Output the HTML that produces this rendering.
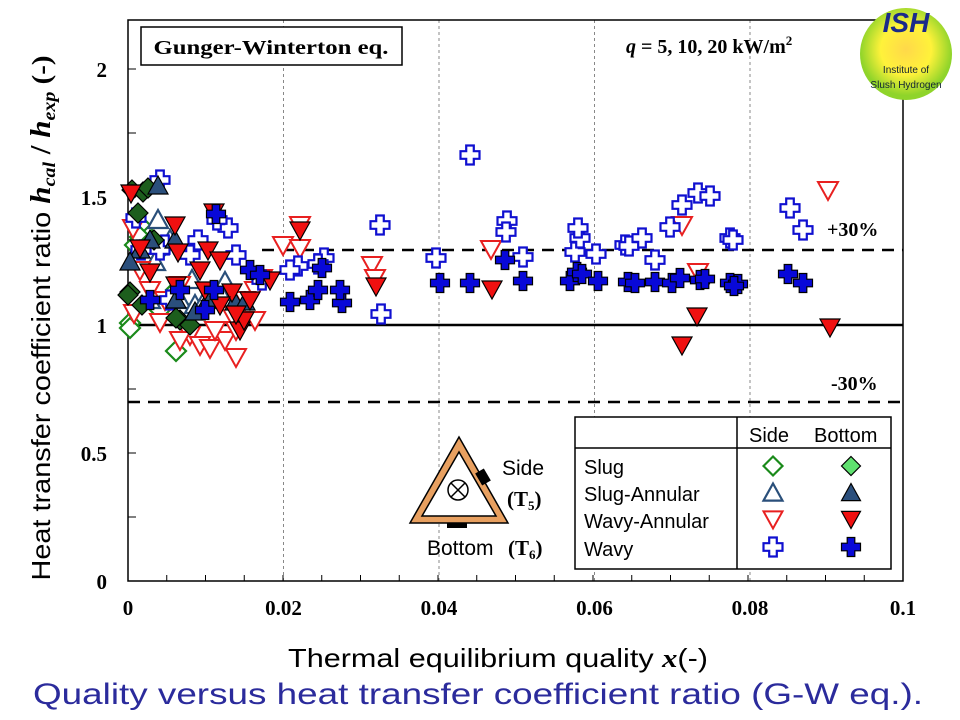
<!DOCTYPE html>
<html><head><meta charset="utf-8"><style>
html,body{margin:0;padding:0;background:#fff;}
svg{display:block;}
</style></head><body>
<svg id="s" width="960" height="720" xmlns="http://www.w3.org/2000/svg" font-family="Liberation Sans, sans-serif">
<defs>
<radialGradient id="lg" cx="50%" cy="45%" r="50%">
<stop offset="0" stop-color="#ffd84a"/><stop offset="0.55" stop-color="#fff23a"/><stop offset="1" stop-color="#8fd42a"/>
</radialGradient>
</defs>
<rect width="960" height="720" fill="#fff"/>
<g stroke="#888" stroke-width="1" stroke-dasharray="3,3">
<line x1="283.5" y1="20" x2="283.5" y2="581"/><line x1="439" y1="20" x2="439" y2="581"/>
<line x1="594.5" y1="20" x2="594.5" y2="581"/><line x1="750" y1="20" x2="750" y2="581"/>
</g>
<rect x="128" y="20" width="775" height="561" fill="none" stroke="#000" stroke-width="1.5"/>
<g id="ticks" stroke="#000" stroke-width="1"></g>
<line x1="128" y1="325" x2="903" y2="325" stroke="#000" stroke-width="2.5"/>
<line x1="262" y1="250" x2="903" y2="250" stroke="#000" stroke-width="2.5" stroke-dasharray="12,8"/>
<line x1="128" y1="402" x2="903" y2="402" stroke="#000" stroke-width="2.5" stroke-dasharray="12,8"/>
<g font-family="Liberation Serif, serif" font-weight="bold" font-size="20">
<text x="827" y="236">+30%</text><text x="831" y="390">-30%</text>
</g>
<g id="pts"></g>
<rect x="141" y="27" width="261" height="38" fill="#fff" stroke="#000" stroke-width="1.5"/>
<text x="271" y="54" text-anchor="middle" font-family="Liberation Serif, serif" font-weight="bold" font-size="20" textLength="235" lengthAdjust="spacingAndGlyphs">Gunger-Winterton eq.</text>
<text x="626" y="53" font-family="Liberation Serif, serif" font-weight="bold" font-size="20"><tspan font-style="italic">q</tspan> = 5, 10, 20 kW/m<tspan font-size="13" dy="-8">2</tspan></text>
<circle cx="906" cy="54" r="46" fill="url(#lg)"/>
<text x="906" y="32" text-anchor="middle" font-weight="bold" font-style="italic" font-size="28" fill="#1a2a8a">ISH</text>
<text x="906" y="73" text-anchor="middle" font-size="10" fill="#123">Institute of</text>
<text x="906" y="88" text-anchor="middle" font-size="10" fill="#123">Slush Hydrogen</text>
<g font-family="Liberation Serif, serif" font-weight="bold" font-size="21" text-anchor="end">
<text x="107" y="77">2</text><text x="107" y="205">1.5</text><text x="107" y="333">1</text><text x="107" y="461">0.5</text><text x="107" y="589">0</text>
</g>
<g font-family="Liberation Serif, serif" font-weight="bold" font-size="21" text-anchor="middle">
<text x="128" y="615">0</text><text x="283.5" y="615">0.02</text><text x="439" y="615">0.04</text><text x="594.5" y="615">0.06</text><text x="750" y="615">0.08</text><text x="903" y="615">0.1</text>
</g>
<text transform="translate(50,318) rotate(-90)" text-anchor="middle" font-size="26" textLength="525" lengthAdjust="spacingAndGlyphs">Heat transfer coefficient ratio <tspan font-family="Liberation Serif, serif" font-weight="bold" font-style="italic" font-size="28">h</tspan><tspan font-family="Liberation Serif, serif" font-weight="bold" font-style="italic" font-size="18" dy="5">cal</tspan><tspan dy="-5" font-family="Liberation Serif, serif" font-weight="bold" font-size="28"> / </tspan><tspan font-family="Liberation Serif, serif" font-weight="bold" font-style="italic" font-size="28">h</tspan><tspan font-family="Liberation Serif, serif" font-weight="bold" font-style="italic" font-size="18" dy="5">exp</tspan><tspan dy="-5" font-family="Liberation Serif, serif" font-weight="bold" font-size="26"> (-)</tspan></text>
<text x="498" y="667" text-anchor="middle" font-size="26" textLength="420" lengthAdjust="spacingAndGlyphs">Thermal equilibrium quality <tspan font-family="Liberation Serif, serif" font-weight="bold" font-style="italic">x</tspan>(-)</text>
<text x="478" y="704" text-anchor="middle" font-size="30" fill="#2b2b9c" textLength="890" lengthAdjust="spacingAndGlyphs">Quality versus heat transfer coefficient ratio (G-W eq.).</text>
<polygon points="459,437 410,523 508,523" fill="#e8a060" stroke="#000" stroke-width="1.5"/>
<polygon points="459,452 422,516 496,516" fill="#fff" stroke="#000" stroke-width="1.5"/>
<rect x="478" y="470" width="10" height="14" fill="#000" transform="rotate(-30 483 477)"/>
<rect x="447" y="523" width="20" height="5" fill="#000"/>
<circle cx="458" cy="490" r="10" fill="none" stroke="#000" stroke-width="1.5"/>
<line x1="451" y1="483" x2="465" y2="497" stroke="#000" stroke-width="1.5"/><line x1="465" y1="483" x2="451" y2="497" stroke="#000" stroke-width="1.5"/>
<text x="502" y="475" font-size="21">Side</text>
<text x="507" y="506" font-family="Liberation Serif, serif" font-weight="bold" font-size="21">(T<tspan font-size="13" dy="4">5</tspan><tspan dy="-4">)</tspan></text>
<text x="427" y="555" font-size="21">Bottom</text>
<text x="508" y="555" font-family="Liberation Serif, serif" font-weight="bold" font-size="21">(T<tspan font-size="13" dy="4">6</tspan><tspan dy="-4">)</tspan></text>
<rect x="575" y="417" width="316" height="152" fill="#fff" stroke="#000" stroke-width="1.5"/>
<line x1="575" y1="448" x2="891" y2="448" stroke="#000" stroke-width="1.5"/>
<line x1="737" y1="417" x2="737" y2="569" stroke="#000" stroke-width="1.5"/>
<g font-size="20">
<text x="749" y="442">Side</text><text x="814" y="442">Bottom</text>
<text x="584" y="474">Slug</text><text x="584" y="501">Slug-Annular</text><text x="584" y="528">Wavy-Annular</text><text x="584" y="556">Wavy</text>
</g>
<g id="leg"></g>
</svg>
<script>
var NS="http://www.w3.org/2000/svg";
function el(p,t,a){var e=document.createElementNS(NS,t);for(var k in a)e.setAttribute(k,a[k]);p.appendChild(e);return e;}
var tk=document.getElementById('ticks');
for(var i=1;i<20;i++){var x=128+i*38.75;el(tk,'line',{x1:x,y1:581,x2:x,y2:575});}
for(var i=1;i<9;i++){var y=581-i*64;el(tk,'line',{x1:128,y1:y,x2:136,y2:y});}
var STY={
 sdo:{fill:'#fff',stroke:'#1a8a1a',sw:2.2},sdf:{fill:'#1d5e1d',stroke:'#000',sw:1.2},
 sto:{fill:'#fff',stroke:'#2a4f7a',sw:2.2},stf:{fill:'#2b4f7c',stroke:'#000',sw:1.2},
 wto:{fill:'#fff',stroke:'#e82020',sw:2},wtf:{fill:'#f01010',stroke:'#000',sw:1.2},
 cro:{fill:'#fff',stroke:'#1010d0',sw:2.2},crf:{fill:'#0808d8',stroke:'#000',sw:1.2}
};
function shape(g,kind,x,y,s,st){
 var r=s/2,pts;
 if(kind[0]=='d'){pts=[[x,y-r],[x+r,y],[x,y+r],[x-r,y]];}
 else if(kind[0]=='t'){pts=[[x,y-r],[x+r,y+r*0.8],[x-r,y+r*0.8]];}
 else if(kind[0]=='v'){pts=[[x-r,y-r*0.8],[x+r,y-r*0.8],[x,y+r]];}
 else{var a=r*0.4;pts=[[x-a,y-r],[x+a,y-r],[x+a,y-a],[x+r,y-a],[x+r,y+a],[x+a,y+a],[x+a,y+r],[x-a,y+r],[x-a,y+a],[x-r,y+a],[x-r,y-a],[x-a,y-a]];}
 el(g,'polygon',{points:pts.map(function(p){return p.join(',')}).join(' '),fill:st.fill,stroke:st.stroke,'stroke-width':st.sw,'stroke-linejoin':'miter'});
}
var g=document.getElementById('pts');
var D={
sdo:[[130,323],[130,328],[135,245],[140,225],[140,237],[152,240],[160,250],[176,290],[184,310],[176,351],[160,310]],
sdf:[[132,190],[143,192],[138,213],[148,188],[154,240],[130,292],[128,295],[142,305],[180,320],[190,325],[176,318]],
sto:[[158,220],[170,240],[175,295],[180,300],[155,262],[150,300],[195,305],[205,300],[220,292],[225,282],[192,280]],
stf:[[158,186],[150,240],[140,250],[130,262],[176,300],[175,240],[208,300],[195,312],[235,302],[245,302]],
wto:[[133,228],[134,313],[150,290],[140,270],[160,322],[170,300],[190,335],[200,345],[210,348],[225,340],[236,357],[236,330],[255,290],[262,278],[283,245],[300,248],[300,225],[372,265],[375,278],[491,249],[682,225],[698,272],[828,190],[232,315],[215,330],[180,340],[245,300],[180,285],[165,300],[255,320]],
wtf:[[131,193],[140,248],[175,225],[178,252],[214,212],[208,250],[200,270],[220,260],[232,292],[240,330],[205,290],[220,305],[250,300],[270,280],[300,230],[376,286],[492,289],[682,345],[697,316],[830,327],[244,320],[236,314],[176,285],[150,272]],
cro:[[470,155],[507,221],[506,232],[523,257],[436,258],[380,225],[381,314],[575,252],[580,238],[578,228],[596,254],[625,245],[629,246],[642,238],[655,260],[670,227],[682,205],[698,193],[710,196],[730,238],[733,240],[790,208],[803,230],[324,258],[318,264],[298,266],[290,270],[262,280],[236,255],[228,228],[217,220],[198,240],[190,255],[165,245],[160,250],[170,300],[136,218],[141,250],[160,180]],
crf:[[290,302],[310,300],[318,290],[322,268],[342,303],[340,290],[440,283],[470,283],[505,260],[523,281],[570,281],[577,272],[582,274],[598,281],[628,282],[635,283],[655,282],[672,283],[680,278],[700,280],[705,279],[730,283],[738,284],[788,274],[803,283],[734,286],[214,290],[150,300],[180,290],[250,270],[260,275],[205,310],[216,214]]
};
var K={sdo:'d',sdf:'d',sto:'t',stf:'t',wto:'v',wtf:'v',cro:'c',crf:'c'};
['sdo','sto','wto','cro','sdf','stf','wtf','crf'].forEach(function(k){D[k].forEach(function(p){shape(g,K[k],p[0],p[1],k[0]=='c'?19:20,STY[k]);});});
var L=document.getElementById('leg');
var LS=Object.assign({},STY);LS.sdf={fill:'#5fe06f',stroke:'#000',sw:1.2};
[['sdo','sdf',466],['sto','stf',493],['wto','wtf',519],['cro','crf',547]].forEach(function(r){shape(L,K[r[0]],773,r[2],19,LS[r[0]]);shape(L,K[r[1]],851,r[2],19,LS[r[1]]);});
</script>
</body></html>
